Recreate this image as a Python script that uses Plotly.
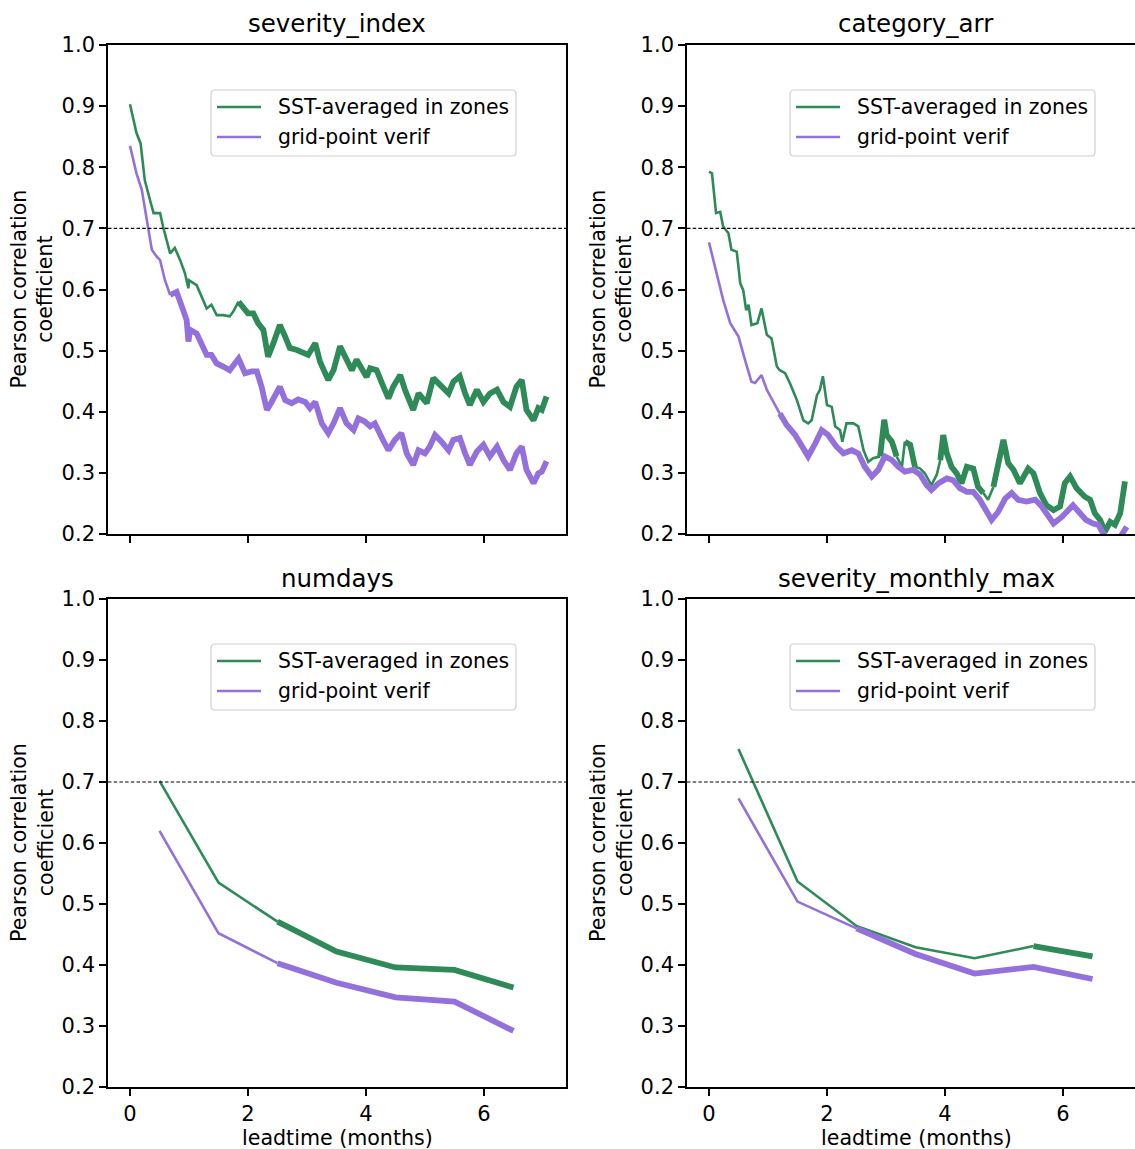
import plotly.graph_objects as go

# ---------------- data ----------------
panel_titles = ["severity_index", "category_arr", "numdays", "severity_monthly_max"]
series_names = ["SST-averaged in zones", "grid-point verif"]
y_tick_vals = [0.2, 0.3, 0.4, 0.5, 0.6, 0.7, 0.8, 0.9, 1.0]
x_tick_vals = [0, 2, 4, 6]
threshold = 0.7

# severity_index (daily leadtime, months)
si_zone_x = [0, 0.11, 0.18, 0.25, 0.34, 0.40, 0.51, 0.56, 0.68, 0.76, 0.85, 0.93, 0.99, 1.0, 1.13,
             1.21, 1.30, 1.38, 1.47, 1.58, 1.69, 1.75, 1.84, 1.92, 2.0, 2.09, 2.17, 2.26, 2.34, 2.43,
             2.54, 2.63, 2.71, 2.83, 2.94, 3.02, 3.14, 3.22, 3.36, 3.45, 3.56, 3.67, 3.76, 3.84, 3.93,
             4.01, 4.07, 4.18, 4.27, 4.38, 4.46, 4.58, 4.66, 4.80, 4.89, 4.97, 5.03, 5.14, 5.25, 5.40,
             5.48, 5.59, 5.68, 5.76, 5.88, 5.99, 6.10, 6.22, 6.33, 6.44, 6.55, 6.64, 6.72, 6.84, 6.92,
             6.98, 7.06]
si_zone_y = [0.903, 0.856, 0.839, 0.779, 0.746, 0.725, 0.725, 0.703, 0.659, 0.668, 0.648, 0.627, 0.602, 0.615, 0.607,
             0.588, 0.569, 0.575, 0.558, 0.558, 0.556, 0.564, 0.580, 0.569, 0.561, 0.561, 0.545, 0.534, 0.490, 0.512,
             0.542, 0.523, 0.504, 0.501, 0.496, 0.493, 0.512, 0.482, 0.452, 0.468, 0.507, 0.485, 0.468, 0.485, 0.468,
             0.457, 0.471, 0.468, 0.447, 0.422, 0.441, 0.460, 0.436, 0.403, 0.430, 0.422, 0.414, 0.455, 0.444, 0.430,
             0.449, 0.458, 0.430, 0.411, 0.436, 0.416, 0.430, 0.436, 0.416, 0.408, 0.441, 0.452, 0.403, 0.386, 0.406,
             0.403, 0.425]
si_grid_x = [0, 0.11, 0.20, 0.28, 0.37, 0.45, 0.51, 0.59, 0.68, 0.79, 0.88, 0.96, 0.99, 1.02, 1.13,
             1.21, 1.30, 1.38, 1.47, 1.58, 1.69, 1.84, 1.95, 2.06, 2.15, 2.23, 2.32, 2.40, 2.54, 2.63,
             2.74, 2.85, 2.97, 3.05, 3.14, 3.25, 3.36, 3.45, 3.56, 3.67, 3.79, 3.87, 3.98, 4.07, 4.15,
             4.27, 4.38, 4.49, 4.60, 4.69, 4.80, 4.89, 5.00, 5.08, 5.17, 5.28, 5.40, 5.48, 5.59, 5.68,
             5.76, 5.88, 5.99, 6.10, 6.22, 6.33, 6.44, 6.55, 6.64, 6.72, 6.84, 6.92, 6.98, 7.06]
si_grid_y = [0.835, 0.790, 0.763, 0.714, 0.665, 0.654, 0.648, 0.616, 0.591, 0.596, 0.572, 0.550, 0.515, 0.534, 0.528,
             0.509, 0.493, 0.493, 0.479, 0.474, 0.468, 0.487, 0.463, 0.466, 0.466, 0.441, 0.403, 0.416, 0.441, 0.419,
             0.414, 0.420, 0.416, 0.406, 0.416, 0.381, 0.365, 0.381, 0.406, 0.381, 0.370, 0.389, 0.384, 0.376, 0.381,
             0.357, 0.337, 0.354, 0.365, 0.332, 0.313, 0.337, 0.332, 0.343, 0.362, 0.351, 0.337, 0.354, 0.357, 0.332,
             0.313, 0.335, 0.346, 0.327, 0.343, 0.321, 0.305, 0.332, 0.343, 0.305, 0.283, 0.299, 0.302, 0.319]

# category_arr
ca_zone_x = [0, 0.05, 0.12, 0.19, 0.24, 0.33, 0.38, 0.47, 0.53, 0.58, 0.63, 0.67, 0.72, 0.82, 0.89,
             0.98, 1.06, 1.15, 1.20, 1.29, 1.37, 1.49, 1.60, 1.68, 1.74, 1.83, 1.88, 1.93, 2.00, 2.08,
             2.14, 2.22, 2.26, 2.33, 2.45, 2.53, 2.62, 2.70, 2.78, 2.90, 2.97, 3.01, 3.10, 3.18, 3.27,
             3.32, 3.41, 3.49, 3.58, 3.66, 3.77, 3.86, 3.92, 3.97, 4.03, 4.11, 4.20, 4.28, 4.37, 4.48,
             4.56, 4.65, 4.73, 4.82, 4.90, 4.99, 5.07, 5.16, 5.27, 5.41, 5.50, 5.61, 5.72, 5.84, 5.95,
             6.03, 6.12, 6.23, 6.37, 6.46, 6.54, 6.63, 6.71, 6.80, 6.88, 6.97, 7.05]
ca_zone_y = [0.793, 0.790, 0.725, 0.727, 0.703, 0.692, 0.665, 0.662, 0.610, 0.599, 0.566, 0.575, 0.542, 0.545, 0.569,
             0.526, 0.520, 0.474, 0.468, 0.463, 0.447, 0.419, 0.386, 0.381, 0.386, 0.427, 0.436, 0.458, 0.411, 0.408,
             0.376, 0.370, 0.351, 0.381, 0.381, 0.376, 0.337, 0.318, 0.324, 0.327, 0.387, 0.362, 0.351, 0.327, 0.310,
             0.351, 0.346, 0.310, 0.307, 0.299, 0.280, 0.297, 0.321, 0.362, 0.332, 0.310, 0.299, 0.283, 0.310, 0.307,
             0.277, 0.267, 0.256, 0.277, 0.310, 0.354, 0.316, 0.305, 0.283, 0.307, 0.299, 0.267, 0.247, 0.239, 0.245,
             0.283, 0.294, 0.275, 0.261, 0.256, 0.234, 0.223, 0.204, 0.220, 0.215, 0.234, 0.286]
ca_grid_x = [0, 0.13, 0.24, 0.36, 0.50, 0.61, 0.72, 0.78, 0.89, 0.98, 1.09, 1.20, 1.32, 1.46, 1.57,
             1.68, 1.80, 1.91, 2.02, 2.16, 2.28, 2.42, 2.53, 2.64, 2.76, 2.87, 2.98, 3.10, 3.21, 3.32,
             3.46, 3.58, 3.69, 3.77, 3.89, 4.03, 4.14, 4.25, 4.37, 4.48, 4.59, 4.71, 4.79, 4.90, 5.02,
             5.13, 5.24, 5.38, 5.53, 5.64, 5.75, 5.84, 5.98, 6.09, 6.17, 6.29, 6.39, 6.51, 6.60, 6.68,
             6.80, 6.95, 7.08]
ca_grid_y = [0.677, 0.626, 0.583, 0.545, 0.523, 0.485, 0.449, 0.447, 0.460, 0.436, 0.416, 0.397, 0.378, 0.362, 0.343,
             0.327, 0.348, 0.370, 0.362, 0.343, 0.332, 0.337, 0.332, 0.310, 0.294, 0.305, 0.327, 0.321, 0.310, 0.302,
             0.305, 0.297, 0.280, 0.272, 0.283, 0.291, 0.288, 0.275, 0.269, 0.269, 0.256, 0.234, 0.223, 0.236, 0.258,
             0.267, 0.256, 0.253, 0.256, 0.245, 0.228, 0.217, 0.228, 0.239, 0.247, 0.234, 0.223, 0.217, 0.215, 0.201,
             0.185, 0.192, 0.212]

# monthly leadtimes
monthly_x = [0.5, 1.5, 2.5, 3.5, 4.5, 5.5, 6.5]
nd_zone_y = [0.702, 0.535, 0.471, 0.422, 0.396, 0.392, 0.363]
nd_grid_y = [0.620, 0.452, 0.403, 0.371, 0.347, 0.340, 0.292]
smm_zone_y = [0.754, 0.537, 0.464, 0.429, 0.411, 0.431, 0.414]
smm_grid_y = [0.673, 0.504, 0.460, 0.418, 0.386, 0.397, 0.377]

# leadtime ranges where the correlation is significant (drawn thick)
si_zone_sig = [[1.84, 7.1]]
si_grid_sig = [[0.68, 7.1]]
ca_zone_sig = [[2.9, 3.1], [3.3, 3.41], [3.92, 4.56], [4.82, 7.1]]
ca_grid_sig = [[1.2, 7.1]]
nd_zone_sig = [[2.5, 6.5]]
nd_grid_sig = [[2.5, 6.5]]
smm_zone_sig = [[5.5, 6.5]]
smm_grid_sig = [[2.5, 6.5]]

# ---------------- styling ----------------
GREEN = "#2E8B57"
PURPLE = "#9370DB"
FONT = "DejaVu Sans"
THIN = 2.6
THICK = 5.8
TICK_FS = 21
LABEL_FS = 20.6
LEG_FS = 20.4
TITLE_FS = 24.5
W, H = 1135, 1149

panels = [
    dict(title=panel_titles[0], series=[(si_zone_x, si_zone_y, si_zone_sig), (si_grid_x, si_grid_y, si_grid_sig)]),
    dict(title=panel_titles[1], series=[(ca_zone_x, ca_zone_y, ca_zone_sig), (ca_grid_x, ca_grid_y, ca_grid_sig)]),
    dict(title=panel_titles[2], series=[(monthly_x, nd_zone_y, nd_zone_sig), (monthly_x, nd_grid_y, nd_grid_sig)]),
    dict(title=panel_titles[3], series=[(monthly_x, smm_zone_y, smm_zone_sig), (monthly_x, smm_grid_y, smm_grid_sig)]),
]
colors = [GREEN, PURPLE]

# pixel geometry of axes boxes (left, right, top, bottom)
boxes = [(108, 566, 45, 534), (687, 1145, 45, 534), (108, 566, 599, 1087), (687, 1145, 599, 1087)]
zero_px = [130, 709, 130, 709]
px_per_month = 59.0


def px(xp):
    return xp / W


def py(yp):
    return 1 - yp / H


fig = go.Figure()
layout = dict(template="none", width=W, height=H, autosize=False, margin=dict(l=0, r=0, t=0, b=0, pad=0),
              paper_bgcolor="white", plot_bgcolor="white", showlegend=False,
              font=dict(family=FONT, size=20, color="black"))
annotations = []
shapes = []


def segments(xs, ys, sig):
    flags = [any(a <= x <= b for a, b in sig) for x in xs]
    runs = []
    i = 0
    n = len(xs)
    while i < n:
        j = i
        while j + 1 < n and flags[j + 1] == flags[i]:
            j += 1
        end = min(j + 1, n - 1)
        runs.append((xs[i:end + 1], ys[i:end + 1], flags[i]))
        i = j + 1
    return runs


def rounded_box(x0, y0, x1, y1, r):
    def P(a, b):
        return f"{px(a)},{py(b)}"
    return (f"M {P(x0 + r, y0)} L {P(x1 - r, y0)} Q {P(x1, y0)} {P(x1, y0 + r)} "
            f"L {P(x1, y1 - r)} Q {P(x1, y1)} {P(x1 - r, y1)} "
            f"L {P(x0 + r, y1)} Q {P(x0, y1)} {P(x0, y1 - r)} "
            f"L {P(x0, y0 + r)} Q {P(x0, y0)} {P(x0 + r, y0)} Z")


for k, p in enumerate(panels):
    idx = "" if k == 0 else str(k + 1)
    xa, ya = "x" + idx, "y" + idx
    for s, (xs, ys, sig) in enumerate(p["series"]):
        for sx, sy, thick in segments(xs, ys, sig):
            fig.add_trace(go.Scatter(x=sx, y=sy, mode="lines", xaxis=xa, yaxis=ya,
                                     line=dict(color=colors[s], width=THICK if thick else THIN),
                                     name=series_names[s], showlegend=False, hoverinfo="skip"))

    l, r, t, b = boxes[k]
    dom_x = [l / W, min(r, W) / W]
    x0 = (l - zero_px[k]) / px_per_month
    x1 = (min(r, W) - zero_px[k]) / px_per_month
    bottom_row = k >= 2
    right_col = k % 2 == 1
    layout["xaxis" + idx] = dict(domain=dom_x, range=[x0, x1], anchor=ya, showline=True, linecolor="black",
                                 linewidth=1.6, mirror=True, ticks="outside", ticklen=7, tickwidth=1.6,
                                 tickcolor="black", tickvals=x_tick_vals, showticklabels=bottom_row,
                                 showgrid=False, zeroline=False, automargin=False,
                                 tickfont=dict(size=TICK_FS, family=FONT))
    layout["yaxis" + idx] = dict(domain=[1 - b / H, 1 - t / H], range=[0.2, 1.0], anchor=xa, showline=True,
                                 linecolor="black", linewidth=1.6, mirror=not right_col, ticks="outside",
                                 ticklen=7, tickwidth=1.6, tickcolor="black", tickvals=y_tick_vals,
                                 tickformat=".1f", showgrid=False, zeroline=False, automargin=False,
                                 tickfont=dict(size=TICK_FS, family=FONT))
    # threshold line
    shapes.append(dict(type="line", xref=xa + " domain", x0=0, x1=1, yref=ya, y0=threshold, y1=threshold,
                       line=dict(color="black", width=1.2, dash="3.5px,2.2px")))
    # legend (drawn like the matplotlib legend box)
    lb_l, lb_r = l + 103, l + 408
    lb_t, lb_b = t + 45, t + 111
    shapes.append(dict(type="path", xref="paper", yref="paper", path=rounded_box(lb_l, lb_t, lb_r, lb_b, 4),
                       fillcolor="rgba(255,255,255,0.8)", line=dict(color="#d0d0d0", width=1.2), layer="above"))
    for s in range(2):
        yy = t + 62 + 30 * s
        shapes.append(dict(type="line", xref="paper", yref="paper", x0=px(lb_l + 6), x1=px(lb_l + 50),
                           y0=py(yy), y1=py(yy), line=dict(color=colors[s], width=THIN), layer="above"))
        annotations.append(dict(text=series_names[s], x=px(lb_l + 65), y=py(yy), xref="paper", yref="paper",
                                xanchor="left", yanchor="middle", showarrow=False,
                                font=dict(size=LEG_FS, family=FONT)))
    # title
    cx = (l + r) / 2
    annotations.append(dict(text=p["title"], x=cx / W, y=py(t - 21), xref="paper", yref="paper",
                            xanchor="center", yanchor="middle", showarrow=False,
                            font=dict(size=TITLE_FS, family=FONT)))
    # y title
    annotations.append(dict(text="Pearson correlation<br>coefficient", x=px(l - 76), y=py((t + b) / 2),
                            xref="paper", yref="paper", xanchor="center", yanchor="middle", textangle=-90,
                            showarrow=False, font=dict(size=LABEL_FS, family=FONT)))
    if bottom_row:
        annotations.append(dict(text="leadtime (months)", x=cx / W, y=py(1138), xref="paper", yref="paper",
                                xanchor="center", yanchor="middle", showarrow=False,
                                font=dict(size=LABEL_FS, family=FONT)))

layout["annotations"] = annotations
layout["shapes"] = shapes
fig.update_layout(**layout)
fig.write_html("out.html")
